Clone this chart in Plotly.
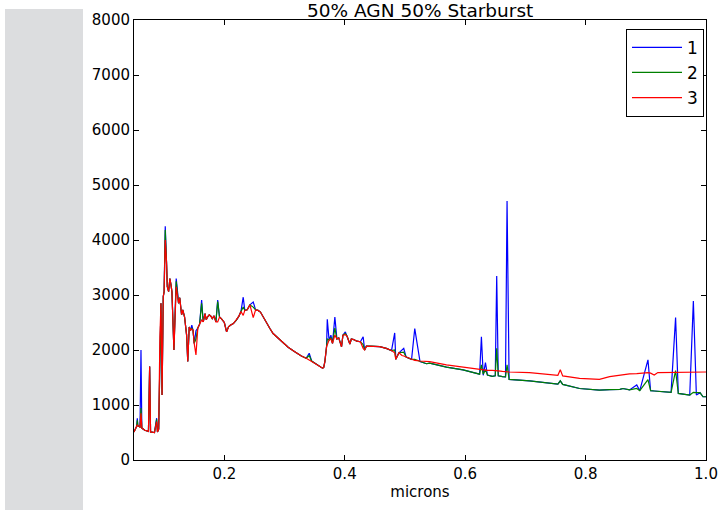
import plotly.graph_objects as go

# wavelength grid (microns) and the three spectra
wave = [0.050, 0.052, 0.0544, 0.0555, 0.0565, 0.0600, 0.0616, 0.0630, 0.0680, 0.0740,
        0.0760, 0.0775, 0.0840, 0.0876, 0.0890, 0.0910, 0.0930, 0.0948, 0.0966, 0.0986,
        0.1000, 0.1019, 0.1040, 0.1053, 0.1075, 0.1096, 0.1115, 0.1130, 0.1163, 0.1180,
        0.1201, 0.1220, 0.1240, 0.1260, 0.1290, 0.1310, 0.1340, 0.1374, 0.1393, 0.1417,
        0.1440, 0.1460, 0.1480, 0.1500, 0.1529, 0.1560, 0.1590, 0.1623, 0.1650, 0.1680,
        0.1700, 0.1720, 0.1750, 0.1780, 0.1800, 0.1830, 0.1860, 0.1890, 0.1920, 0.1950,
        0.2000, 0.2038, 0.2070, 0.2100, 0.2150, 0.2200, 0.2240, 0.2276, 0.2314, 0.2340,
        0.2380, 0.2425, 0.2480, 0.2520, 0.2560, 0.2600, 0.2646, 0.2700, 0.2757, 0.2810,
        0.2868, 0.2950, 0.3060, 0.3170, 0.3280, 0.3360, 0.3410, 0.3450, 0.3500, 0.3587,
        0.3630, 0.3650, 0.3670, 0.3698, 0.3710, 0.3740, 0.3770, 0.3797, 0.3836, 0.3870,
        0.3900, 0.3947, 0.3970, 0.4010, 0.4040, 0.4085, 0.4110, 0.4150, 0.4200, 0.4260,
        0.4306, 0.4330, 0.4360, 0.4450, 0.4580, 0.4690, 0.4777, 0.4830, 0.4848, 0.4900,
        0.4950, 0.4980, 0.5020, 0.5110, 0.5163, 0.5250, 0.5357, 0.5410, 0.5690, 0.5965,
        0.6190, 0.6240, 0.6270, 0.6300, 0.6337, 0.6370, 0.6450, 0.6500, 0.6524, 0.6550,
        0.6620, 0.6670, 0.6696, 0.6730, 0.7070, 0.7350, 0.7540, 0.7580, 0.7620, 0.7900,
        0.8060, 0.8230, 0.8400, 0.8570, 0.8620, 0.8730, 0.8850, 0.8900, 0.9036, 0.9080,
        0.9140, 0.9200, 0.9420, 0.9495, 0.9540, 0.9730, 0.9790, 0.9840, 0.9900, 0.9950,
        1.0000]

series1 = [510, 560, 610, 760, 620, 600, 2000, 580, 540, 520,
           1700, 510, 500, 760, 510, 560, 2240, 2850, 1180, 2970,
           3060, 4250, 3600, 3150, 3060, 3300, 3180, 3060, 2000, 2730,
           3300, 3100, 2850, 2950, 2640, 2730, 2600, 2270, 1790, 2420,
           2360, 2450, 2360, 2120, 2350, 2400, 2470, 2910, 2510, 2660,
           2550, 2600, 2640, 2610, 2570, 2620, 2510, 2910, 2600, 2570,
           2500, 2330, 2420, 2450, 2480, 2545, 2610, 2700, 2960, 2720,
           2730, 2820, 2870, 2730, 2720, 2690, 2600, 2480, 2390, 2300,
           2240, 2150, 2050, 1970, 1890, 1850, 1940, 1800, 1760, 1700,
           1670, 1680, 1790, 2060, 2560, 2180, 2270, 2120, 2600, 2200,
           2220, 2060, 2270, 2330, 2250, 2110, 2200, 2190, 2160, 2150,
           2240, 2000, 2070, 2070, 2060, 2030, 1990, 2310, 1830, 1950,
           2010, 2030, 1870, 1830, 2390, 1790, 1750, 1760, 1690, 1640,
           1575, 1560, 2240, 1540, 1770, 1545, 1520, 1530, 3345, 1530,
           1515, 1510, 4710, 1465, 1440, 1405, 1380, 1440, 1375, 1300,
           1290, 1270, 1280, 1285, 1300, 1275, 1365, 1260, 1820, 1260,
           1255, 1250, 1230, 2590, 1210, 1180, 2890, 1180, 1225, 1150,
           1150]

series2 = [510, 560, 610, 720, 620, 600, 945, 580, 540, 520,
           1700, 510, 500, 740, 510, 560, 2240, 2850, 1180, 2970,
           3060, 4180, 3600, 3150, 3060, 3300, 3180, 3060, 2000, 2730,
           3250, 3050, 2850, 2950, 2640, 2730, 2600, 2270, 1790, 2420,
           2360, 2400, 2360, 2120, 2200, 2400, 2470, 2850, 2510, 2660,
           2550, 2600, 2640, 2610, 2570, 2620, 2510, 2880, 2600, 2570,
           2500, 2330, 2420, 2450, 2480, 2545, 2610, 2700, 2780, 2720,
           2730, 2820, 2780, 2730, 2720, 2690, 2600, 2480, 2390, 2300,
           2240, 2150, 2050, 1970, 1890, 1850, 1900, 1800, 1760, 1700,
           1670, 1680, 1790, 2060, 2200, 2180, 2230, 2120, 2400, 2200,
           2220, 2060, 2270, 2300, 2250, 2110, 2200, 2190, 2160, 2150,
           2100, 2000, 2070, 2070, 2060, 2030, 1990, 2000, 1830, 1950,
           1960, 1960, 1870, 1830, 1830, 1790, 1750, 1760, 1690, 1640,
           1575, 1560, 1730, 1560, 1640, 1545, 1520, 1530, 2030, 1530,
           1515, 1510, 1730, 1465, 1440, 1405, 1380, 1440, 1375, 1300,
           1290, 1270, 1280, 1285, 1300, 1275, 1300, 1260, 1460, 1260,
           1255, 1250, 1230, 1625, 1210, 1180, 1230, 1225, 1225, 1150,
           1150]

series3 = [510, 560, 610, 640, 620, 600, 850, 580, 540, 520,
           1700, 510, 500, 700, 510, 560, 2240, 2850, 1180, 2970,
           3060, 4000, 3600, 3150, 3060, 3300, 3180, 3060, 2000, 2730,
           3150, 3000, 2850, 2950, 2640, 2730, 2600, 2270, 1790, 2420,
           2360, 2380, 2360, 2120, 1910, 2400, 2470, 2545, 2510, 2660,
           2550, 2600, 2640, 2610, 2570, 2620, 2510, 2510, 2600, 2570,
           2500, 2330, 2420, 2450, 2480, 2545, 2610, 2700, 2630, 2720,
           2730, 2820, 2590, 2730, 2720, 2690, 2600, 2480, 2390, 2300,
           2240, 2150, 2050, 1970, 1890, 1850, 1820, 1800, 1760, 1700,
           1670, 1680, 1790, 2060, 2100, 2180, 2200, 2120, 2270, 2200,
           2220, 2060, 2270, 2280, 2250, 2110, 2200, 2190, 2160, 2150,
           2030, 2000, 2070, 2070, 2060, 2030, 1990, 1950, 1830, 1950,
           1900, 1890, 1870, 1830, 1810, 1800, 1790, 1790, 1730, 1685,
           1650, 1645, 1640, 1640, 1635, 1630, 1630, 1630, 1625, 1620,
           1610, 1605, 1605, 1600, 1590, 1560, 1540, 1640, 1530, 1485,
           1470, 1465, 1515, 1545, 1550, 1565, 1570, 1575, 1590, 1580,
           1545, 1590, 1595, 1590, 1595, 1595, 1595, 1597, 1600, 1600,
           1600]

names = ["1", "2", "3"]
colors = ["#0000ff", "#008000", "#ff0000"]
x_ticks = [0.2, 0.4, 0.6, 0.8, 1.0]
x_tick_labels = ["0.2", "0.4", "0.6", "0.8", "1.0"]
y_ticks = [0, 1000, 2000, 3000, 4000, 5000, 6000, 7000, 8000]

fig = go.Figure()
for ys, nm, c in zip([series1, series2, series3], names, colors):
    fig.add_trace(go.Scatter(x=wave, y=ys, mode="lines", name=nm,
                             line=dict(color=c, width=1.2)))

font = "DejaVu Sans, Liberation Sans, sans-serif"
axis_common = dict(showline=True, linecolor="black", linewidth=1, mirror="ticks",
                   ticks="inside", ticklen=5, tickcolor="black", showgrid=False,
                   zeroline=False, automargin=False,
                   tickfont=dict(size=15, color="black", family=font))

fig.update_layout(
    width=719, height=510,
    margin=dict(l=134, r=13, t=20, b=50),
    paper_bgcolor="white", plot_bgcolor="white",
    font=dict(family=font, color="black"),
    showlegend=True,
    legend=dict(x=0.9965, y=0.98, xanchor="right", yanchor="top",
                bordercolor="black", borderwidth=1, bgcolor="white",
                font=dict(size=17, family=font, color="black"),
                tracegroupgap=0, itemwidth=50),
    xaxis=dict(range=[0.05, 1.0], tickvals=x_ticks, ticktext=x_tick_labels,
               title=dict(text="microns", font=dict(size=15, family=font), standoff=4),
               **axis_common),
    yaxis=dict(range=[0, 8000], tickvals=y_ticks, **axis_common),
    shapes=[dict(type="rect", xref="paper", yref="paper",
                 x0=-0.2255, x1=-0.0892, y0=-0.1136, y1=1.025,
                 fillcolor="#dcdddf", line=dict(width=0), layer="below")],
    annotations=[dict(text="50% AGN 50% Starburst", xref="paper", yref="paper",
                      x=0.5, y=1, xanchor="center", yanchor="bottom", showarrow=False,
                      yshift=-3, font=dict(size=18.5, family=font, color="black"))],
)

fig.write_html("out.html", config={"displayModeBar": False},
               post_script="document.body.style.margin='0';document.body.style.overflow='hidden';")
